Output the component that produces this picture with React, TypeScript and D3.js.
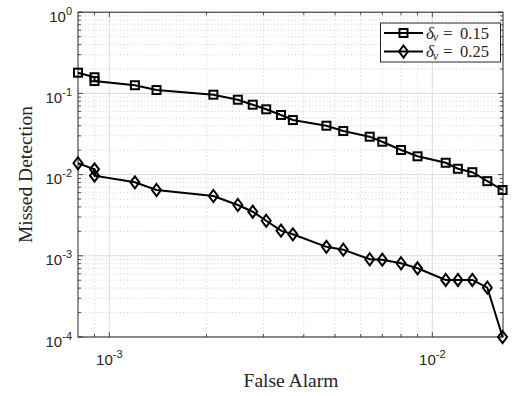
import * as d3 from 'd3';

// ── data ─────────────────────────────────────────────────────────────
const falseAlarm = [
  8.0e-4, 9.0e-4, 9.0e-4, 1.2e-3, 1.4e-3, 2.1e-3, 2.5e-3, 2.78e-3, 3.06e-3, 3.4e-3, 3.7e-3,
  4.7e-3, 5.3e-3, 6.4e-3, 7.0e-3, 8.0e-3, 9.0e-3, 1.1e-2, 1.2e-2, 1.33e-2, 1.48e-2, 1.65e-2,
];
const missedA = [
  0.18, 0.158, 0.142, 0.126, 0.11, 0.0964, 0.0836, 0.0726, 0.0637, 0.0542, 0.047,
  0.04, 0.0344, 0.0293, 0.0254, 0.0201, 0.0168, 0.014, 0.0118, 0.0107, 0.0083, 0.00646,
];
const missedB = [
  0.0138, 0.0116, 0.0097, 0.00804, 0.00646, 0.00545, 0.00422, 0.00349, 0.0027, 0.00204, 0.00184,
  0.00129, 0.00119, 0.000906, 0.000896, 0.00081, 0.000702, 0.000504, 0.000504, 0.000504, 0.000405, 0.0001,
];
const seriesNames = ['0.15', '0.25'];
const xDecades = [-3, -2];
const yDecades = [-4, -3, -2, -1, 0];

const W = 512, H = 396;
const L = 78, R = 503, T = 12.2, B = 337;
const ink = '#262626';
const sans = 'Liberation Sans, Arial, sans-serif';
const serif = 'Liberation Serif, Times New Roman, serif';

export default function App() {
  const x = d3.scaleLog().domain([8.0e-4, 1.655e-2]).range([L, R]);
  const y = d3.scaleLog().domain([1e-4, 1]).range([B, T]);

  const xMinor: number[] = [];
  for (let e = -4; e <= -2; e++) for (let m = 2; m <= 9; m++) {
    const v = m * Math.pow(10, e);
    if (v > 8.0e-4 && v < 1.655e-2) xMinor.push(v);
  }
  const yMinor: number[] = [];
  for (let e = -4; e < 0; e++) for (let m = 2; m <= 9; m++) yMinor.push(m * Math.pow(10, e));

  const line = d3.line<[number, number]>().x(d => x(d[0])).y(d => y(d[1]));
  const ptsA = falseAlarm.map((f, i) => [f, missedA[i]] as [number, number]);
  const ptsB = falseAlarm.map((f, i) => [f, missedB[i]] as [number, number]);

  const square = (cx: number, cy: number, k: string) => (
    <rect key={k} x={cx - 4} y={cy - 4} width={8} height={8} fill="none" stroke="#000" strokeWidth={2} />
  );
  const diamond = (cx: number, cy: number, k: string) => (
    <path key={k} d={`M${cx},${cy - 6}L${cx + 4.5},${cy}L${cx},${cy + 6}L${cx - 4.5},${cy}Z`} fill="none" stroke="#000" strokeWidth={2} />
  );

  return (
    <svg width={W} height={H} style={{ position: 'absolute', left: 0, top: 0, background: '#fff' }}>
      <rect x={0} y={0} width={W} height={H} fill="#fff" />
      {/* grid */}
      {xMinor.map((v, i) => (
        <line key={'gx' + i} x1={x(v)} x2={x(v)} y1={T} y2={B} stroke="#c4c4c4" strokeWidth={0.8} strokeDasharray="1,2.5" />
      ))}
      {yMinor.map((v, i) => (
        <line key={'gy' + i} x1={L} x2={R} y1={y(v)} y2={y(v)} stroke="#c4c4c4" strokeWidth={0.8} strokeDasharray="1,2.5" />
      ))}
      {xDecades.map(e => (
        <line key={'Mx' + e} x1={x(10 ** e)} x2={x(10 ** e)} y1={T} y2={B} stroke="#dcdcdc" strokeWidth={1} />
      ))}
      {yDecades.map(e => (
        <line key={'My' + e} x1={L} x2={R} y1={y(10 ** e)} y2={y(10 ** e)} stroke="#dcdcdc" strokeWidth={1} />
      ))}

      {/* ticks */}
      {xMinor.map((v, i) => (
        <g key={'tx' + i} stroke={ink} strokeWidth={0.8}>
          <line x1={x(v)} x2={x(v)} y1={B} y2={B - 3} />
          <line x1={x(v)} x2={x(v)} y1={T} y2={T + 3} />
        </g>
      ))}
      {xDecades.map(e => (
        <g key={'tX' + e} stroke={ink} strokeWidth={0.8}>
          <line x1={x(10 ** e)} x2={x(10 ** e)} y1={B} y2={B - 5} />
          <line x1={x(10 ** e)} x2={x(10 ** e)} y1={T} y2={T + 5} />
        </g>
      ))}
      {yMinor.map((v, i) => (
        <g key={'ty' + i} stroke={ink} strokeWidth={0.8}>
          <line x1={L} x2={L + 3} y1={y(v)} y2={y(v)} />
          <line x1={R} x2={R - 3} y1={y(v)} y2={y(v)} />
        </g>
      ))}
      {yDecades.map(e => (
        <g key={'tY' + e} stroke={ink} strokeWidth={0.8}>
          <line x1={L} x2={L + 5} y1={y(10 ** e)} y2={y(10 ** e)} />
          <line x1={R} x2={R - 5} y1={y(10 ** e)} y2={y(10 ** e)} />
        </g>
      ))}
      <rect x={L} y={T} width={R - L} height={B - T} fill="none" stroke={ink} strokeWidth={1} />

      {/* tick labels */}
      {xDecades.map(e => (
        <text key={'lx' + e} x={x(10 ** e)} y={365} textAnchor="middle" fontFamily={sans} fontSize={15} fill={ink}>
          10<tspan dy={-7} fontSize={11}>{e}</tspan>
        </text>
      ))}
      {yDecades.map(e => (
        <text key={'ly' + e} x={L - 6} y={y(10 ** e) + 9.5} textAnchor="end" fontFamily={sans} fontSize={15} fill={ink}>
          10<tspan dy={-7} fontSize={11}>{e}</tspan>
        </text>
      ))}

      {/* axis titles */}
      <text x={291} y={387} textAnchor="middle" fontFamily={serif} fontSize={19.5} fill={ink}>
        False Alarm
      </text>
      <text transform={`translate(32,${(T + B) / 2}) rotate(-90)`} textAnchor="middle" fontFamily={serif} fontSize={19.5} fill={ink}>
        Missed Detection
      </text>

      {/* series */}
      <path d={line(ptsA) ?? ''} fill="none" stroke="#000" strokeWidth={2} />
      <path d={line(ptsB) ?? ''} fill="none" stroke="#000" strokeWidth={2} />
      {ptsA.map((d, i) => square(x(d[0]), y(d[1]), 'a' + i))}
      {ptsB.map((d, i) => diamond(x(d[0]), y(d[1]), 'b' + i))}

      {/* legend */}
      <rect x={380.5} y={23} width={120} height={39} fill="#fff" stroke={ink} strokeWidth={1} />
      {seriesNames.map((s, i) => {
        const ly = 33 + i * 18.5;
        return (
          <g key={'lg' + i}>
            <line x1={384} x2={423} y1={ly} y2={ly} stroke="#000" strokeWidth={2} />
            {i === 0 ? square(403.5, ly, 'ls') : diamond(403.5, ly, 'ld')}
            <g fontFamily={serif} fill={ink}>
              <text x={426} y={ly + 5.5} fontSize={17} fontStyle="italic">δ</text>
              <text x={433} y={ly + 8} fontSize={11.5} fontStyle="italic">v</text>
              <text x={443} y={ly + 5.5} fontSize={17}>=</text>
              <text x={460} y={ly + 5.5} fontSize={16.5}>{s}</text>
            </g>
          </g>
        );
      })}
    </svg>
  );
}
